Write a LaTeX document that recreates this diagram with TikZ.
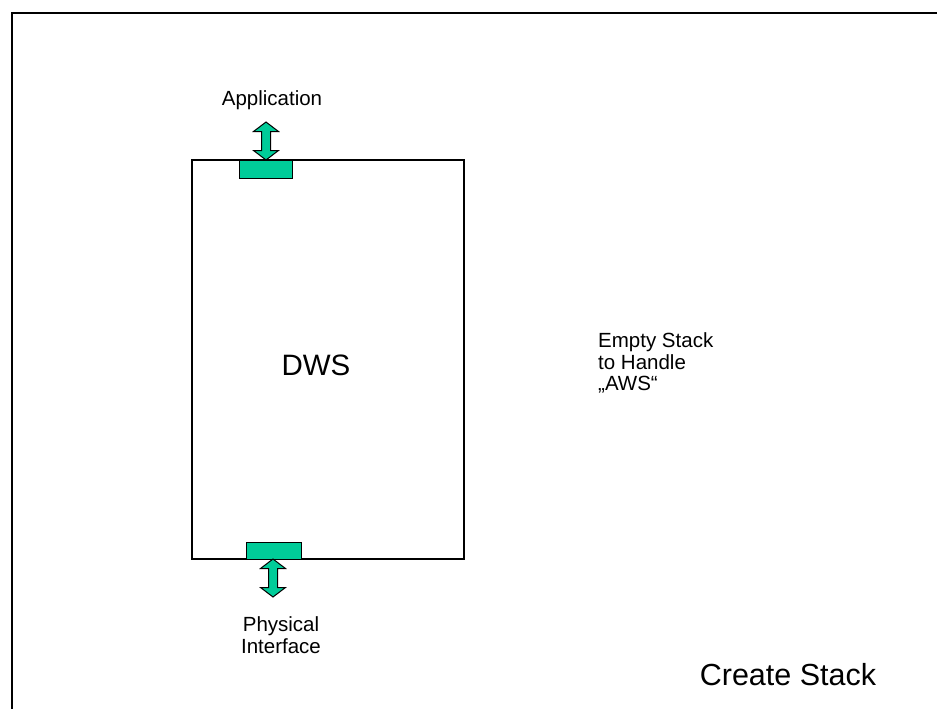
\documentclass[tikz,border=0pt]{standalone}
\usepackage{fontspec}
\setmainfont{Liberation Sans}
\definecolor{portgreen}{RGB}{0,204,153}

\begin{document}
\begin{tikzpicture}[x=1pt, y=-1pt, font=\fontsize{20.5}{21.5}\selectfont]
  \useasboundingbox (0,0) rectangle (937,709);
  % ---------------------------------------------------------------- frame: only its top and left edges show
  \draw[line width=2.2pt] (12,709) -- (12,13) -- (937,13);
  % ---------------------------------------------------------------- the DWS box and its two ports
  \draw[line width=1.3pt] (192,160) rectangle (464,559);
  \node[anchor=base, font=\fontsize{29.5}{33}\selectfont] (dws) at (316,375) {DWS};
  \draw[line width=1pt, fill=portgreen] (239,160) rectangle (292,178);
  \draw[line width=1pt, fill=portgreen] (246,542) rectangle (301,559);
  % double block arrows: centre x / top tip / bottom tip
  \foreach \cx/\ya/\yb in {266/122/160, 273/559/597} {
    \draw[line width=1pt, fill=portgreen, line join=miter]
      (\cx,\ya) -- (\cx+12.5,\ya+9.5) -- (\cx+4.5,\ya+9.5) -- (\cx+4.5,\yb-9.5) -- (\cx+12.5,\yb-9.5) -- (\cx,\yb)
      -- (\cx-12.5,\yb-9.5) -- (\cx-4.5,\yb-9.5) -- (\cx-4.5,\ya+9.5) -- (\cx-12.5,\ya+9.5) -- cycle;
  }
  % ---------------------------------------------------------------- labels
  \node[anchor=base] (app) at (272,106) {Application};
  \node[align=center] (phys) at (281,635) {Physical\\Interface};
  \node[align=left, anchor=west, inner sep=0pt] (empty) at (598,363) {Empty Stack\\to Handle\\„AWS“};
  \node[anchor=base, font=\fontsize{30.5}{33}\selectfont] (create) at (788,685) {Create Stack};
\end{tikzpicture}
\end{document}
